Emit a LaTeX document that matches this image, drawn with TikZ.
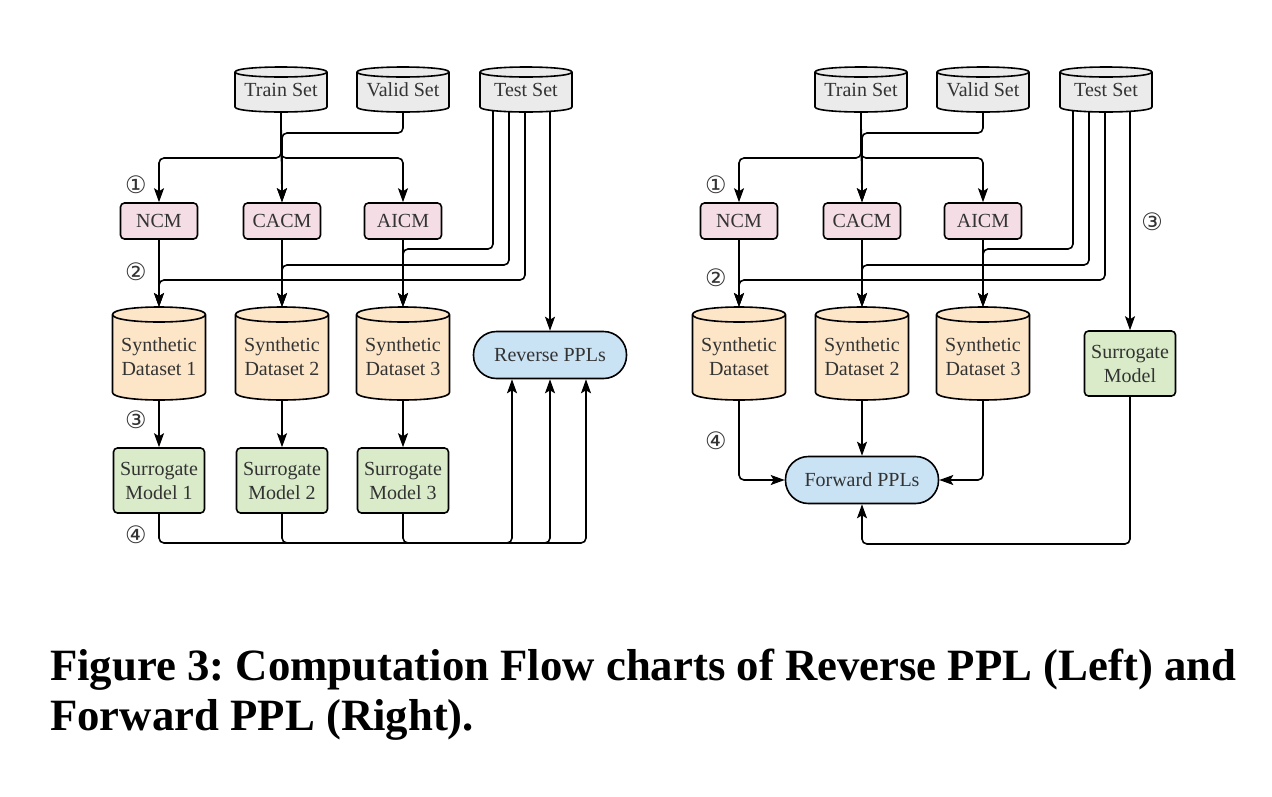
\documentclass[tikz,border=0pt]{standalone}
\usepackage{fontspec}
\setmainfont{Liberation Serif}
\newfontfamily\circfont{DejaVu Sans}
\usetikzlibrary{calc,arrows.meta}
\pgfdeclarelayer{bgwhite}
\pgfdeclarelayer{cylbg}
\pgfsetlayers{bgwhite,cylbg,main}
\definecolor{setgray}{HTML}{EBEBEB}
\definecolor{cmpink}{HTML}{F4DDE5}
\definecolor{sdorange}{HTML}{FDE6C8}
\definecolor{smgreen}{HTML}{D9EBC8}
\definecolor{pplblue}{HTML}{C9E3F5}
\definecolor{txtgray}{HTML}{333333}
\newcommand\cylshape[3]{%
 \begin{pgfonlayer}{cylbg}
 \filldraw[fill=#3, cylline] ($(#1.north west)+(0,#2)$) -- ($(#1.south west)+(0,-#2)$)
   .. controls ($(#1.south west)+(0,{#2/3})$) and ($(#1.south east)+(0,{#2/3})$) .. ($(#1.south east)+(0,-#2)$)
   -- ($(#1.north east)+(0,#2)$)
   .. controls ($(#1.north east)+(0,{-#2/3})$) and ($(#1.north west)+(0,{-#2/3})$) .. cycle;
 \draw[cylline] ($(#1.north west)+(0,#2)$) .. controls ($(#1.north west)+(0,{7*#2/3})$) and ($(#1.north east)+(0,{7*#2/3})$) .. ($(#1.north east)+(0,#2)$);
 \end{pgfonlayer}}
\newcommand\lowtxt[2]{\raisebox{-#1}[\height][\depth]{\begin{tabular}{@{}c@{}}#2\end{tabular}}}
\tikzset{
 every node/.style={text=txtgray, font=\fontsize{20}{24}\selectfont},
 cylline/.style={line width=1.6pt, draw=black, line join=round},
 setcyl/.style={rectangle, minimum width=92pt, minimum height=45pt, inner sep=0pt, outer sep=0pt},
 sdcyl/.style={rectangle, minimum width=93pt, minimum height=93pt, inner sep=0pt, outer sep=0pt},
 cmbox/.style={rectangle, draw=black, line width=1.6pt, fill=cmpink, rounded corners=4pt, minimum width=77pt, minimum height=36pt, inner sep=0pt},
 smbox/.style={rectangle, draw=black, line width=1.6pt, fill=smgreen, rounded corners=4pt, minimum width=91pt, minimum height=65pt, inner sep=0pt, align=center},
 pplbox/.style={rectangle, draw=black, line width=1.6pt, fill=pplblue, rounded corners=23pt, minimum width=153pt, minimum height=47pt, inner sep=0pt},
 circlab/.style={font=\circfont\fontsize{24}{26}\selectfont, inner sep=0pt},
 conn/.style={draw=black, line width=1.6pt, rounded corners=5pt},
 arr/.style={conn, -{Stealth[length=14pt,width=10pt,inset=3pt]}},
 captxt/.style={anchor=base west, inner sep=0pt, text=black, font=\fontsize{44.75}{52}\selectfont\bfseries\frenchspacing},
}
\begin{document}
\begin{tikzpicture}[x=1pt,y=-1pt]
\begin{pgfonlayer}{bgwhite}
\fill[white] (0,0) rectangle (1272,796);
\end{pgfonlayer}
\useasboundingbox (0,0) rectangle (1272,796);

% ================= LEFT =================
\node[setcyl] (Ltrain) at (281,89.5) {\lowtxt{2pt}{Train Set}};
\node[setcyl] (Lvalid) at (403,89.5) {\lowtxt{2pt}{Valid Set}};
\node[setcyl] (Ltest) at (526,89.5) {\lowtxt{2pt}{Test Set}};
\cylshape{Ltrain}{5}{setgray}
\cylshape{Lvalid}{5}{setgray}
\cylshape{Ltest}{5}{setgray}

\node[cmbox] (Lncm) at (159,221) {NCM};
\node[cmbox] (Lcacm) at (282,221) {CACM};
\node[cmbox] (Laicm) at (403,221) {AICM};

\node[sdcyl] (Lsd1) at (159,353.5) {\lowtxt{5pt}{Synthetic\\Dataset 1}};
\node[sdcyl] (Lsd2) at (282,353.5) {\lowtxt{5pt}{Synthetic\\Dataset 2}};
\node[sdcyl] (Lsd3) at (403,353.5) {\lowtxt{5pt}{Synthetic\\Dataset 3}};
\cylshape{Lsd1}{7.5}{sdorange}
\cylshape{Lsd2}{7.5}{sdorange}
\cylshape{Lsd3}{7.5}{sdorange}

\node[smbox] (Lsm1) at (159,480.5) {Surrogate\\Model 1};
\node[smbox] (Lsm2) at (282,480.5) {Surrogate\\Model 2};
\node[smbox] (Lsm3) at (403,480.5) {Surrogate\\Model 3};

\node[pplbox] (Lrev) at (550,355) {Reverse PPLs};

\node[circlab] (Ll1) at (136,185) {①};
\node[circlab] (Ll2) at (136,272) {②};
\node[circlab] (Ll3) at (136,420) {③};
\node[circlab] (Ll4) at (136,535) {④};

\coordinate (Lh0) at (0,133);
\coordinate (Lh1) at (0,158);
\coordinate (Lt1) at (0,249);
\coordinate (Lt2) at (0,265);
\coordinate (Lt3) at (0,280);
\coordinate (Lr1) at (512,543);
\coordinate (Lr2) at (550,543);
\coordinate (Lr3) at (586,543);

\draw[arr] (Ltrain.south) |- (Lh1 -| Lncm.north) -- (Lncm.north);
\draw[arr] (Ltrain.south) -- (Lcacm.north);
\draw[arr] (Ltrain.south) |- (Lh1 -| Laicm.north) -- (Laicm.north);
\draw[arr] (Lvalid.south) |- (Lh0 -| Lcacm.north) -- (Lcacm.north);

\draw[arr] (Lncm.south) -- (Lsd1.north);
\draw[arr] (Lcacm.south) -- (Lsd2.north);
\draw[arr] (Laicm.south) -- (Lsd3.north);

\draw[arr] ($(Ltest.south)+(-33,-2)$) |- (Lt1 -| Lsd3.north) -- (Lsd3.north);
\draw[arr] ($(Ltest.south)+(-17,-1)$) |- (Lt2 -| Lsd2.north) -- (Lsd2.north);
\draw[arr] ($(Ltest.south)+(-1,0)$) |- (Lt3 -| Lsd1.north) -- (Lsd1.north);
\draw[arr] (Lrev.north |- Ltest.south) -- (Lrev.north);

\draw[arr] (Lsd1.south) -- (Lsm1.north);
\draw[arr] (Lsd2.south) -- (Lsm2.north);
\draw[arr] (Lsd3.south) -- (Lsm3.north);

\draw[arr] (Lsm1.south) |- (Lr1) -- (Lrev.south -| Lr1);
\draw[arr] (Lsm2.south) |- (Lr2) -- (Lrev.south -| Lr2);
\draw[arr] (Lsm3.south) |- (Lr3) -- (Lrev.south -| Lr3);

% ================= RIGHT =================
\node[setcyl] (Rtrain) at (861,89.5) {\lowtxt{2pt}{Train Set}};
\node[setcyl] (Rvalid) at (983,89.5) {\lowtxt{2pt}{Valid Set}};
\node[setcyl] (Rtest) at (1106,89.5) {\lowtxt{2pt}{Test Set}};
\cylshape{Rtrain}{5}{setgray}
\cylshape{Rvalid}{5}{setgray}
\cylshape{Rtest}{5}{setgray}

\node[cmbox] (Rncm) at (739,221) {NCM};
\node[cmbox] (Rcacm) at (862,221) {CACM};
\node[cmbox] (Raicm) at (983,221) {AICM};

\node[sdcyl] (Rsd1) at (739,353.5) {\lowtxt{5pt}{Synthetic\\Dataset}};
\node[sdcyl] (Rsd2) at (862,353.5) {\lowtxt{5pt}{Synthetic\\Dataset 2}};
\node[sdcyl] (Rsd3) at (983,353.5) {\lowtxt{5pt}{Synthetic\\Dataset 3}};
\cylshape{Rsd1}{7.5}{sdorange}
\cylshape{Rsd2}{7.5}{sdorange}
\cylshape{Rsd3}{7.5}{sdorange}

\node[smbox] (Rsm) at (1130,363.5) {Surrogate\\Model};
\node[pplbox] (Rfwd) at (862,480) {Forward PPLs};

\node[circlab] (Rl1) at (716,185) {①};
\node[circlab] (Rl2) at (716,278) {②};
\node[circlab] (Rl3) at (1152,222) {③};
\node[circlab] (Rl4) at (716,441) {④};

\coordinate (Rh0) at (0,133);
\coordinate (Rh1) at (0,158);
\coordinate (Rt1) at (0,249);
\coordinate (Rt2) at (0,265);
\coordinate (Rt3) at (0,280);
\coordinate (Rb) at (0,544);

\draw[arr] (Rtrain.south) |- (Rh1 -| Rncm.north) -- (Rncm.north);
\draw[arr] (Rtrain.south) -- (Rcacm.north);
\draw[arr] (Rtrain.south) |- (Rh1 -| Raicm.north) -- (Raicm.north);
\draw[arr] (Rvalid.south) |- (Rh0 -| Rcacm.north) -- (Rcacm.north);

\draw[arr] (Rncm.south) -- (Rsd1.north);
\draw[arr] (Rcacm.south) -- (Rsd2.north);
\draw[arr] (Raicm.south) -- (Rsd3.north);

\draw[arr] ($(Rtest.south)+(-33,-2)$) |- (Rt1 -| Rsd3.north) -- (Rsd3.north);
\draw[arr] ($(Rtest.south)+(-17,-1)$) |- (Rt2 -| Rsd2.north) -- (Rsd2.north);
\draw[arr] ($(Rtest.south)+(-1,0)$) |- (Rt3 -| Rsd1.north) -- (Rsd1.north);
\draw[arr] (Rsm.north |- Rtest.south) -- (Rsm.north);

\draw[arr] (Rsd1.south) |- (Rfwd.west);
\draw[arr] (Rsd2.south) -- (Rfwd.north);
\draw[arr] (Rsd3.south) |- (Rfwd.east);
\draw[arr] (Rsm.south) |- (Rb -| Rfwd.south) -- (Rfwd.south);

% ================= CAPTION =================
\node[captxt] (cap1) at (50,680) {Figure 3: Computation Flow charts of Reverse PPL (Left) and};
\node[captxt] (cap2) at (50,730) {Forward PPL (Right).};
\end{tikzpicture}
\end{document}
